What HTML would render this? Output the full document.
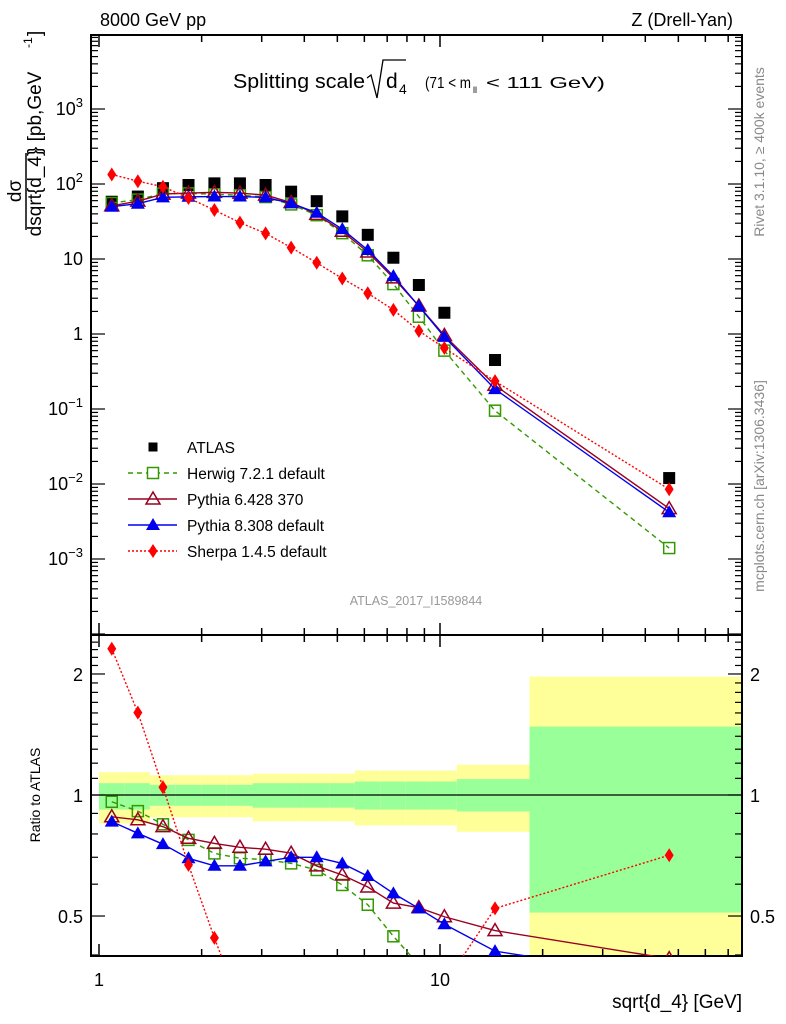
<!DOCTYPE html>
<html><head><meta charset="utf-8"><style>
html,body{margin:0;background:#fff;overflow:hidden;width:786px;height:1024px;}
svg{display:block;font-family:"Liberation Sans",Arial,sans-serif;}
</style></head><body>
<svg id="c" width="786" height="1024" viewBox="0 0 786 1024"></svg>
<script>
// ---- data ----
const xCenters = [1.09,1.30,1.54,1.83,2.18,2.59,3.08,3.66,4.35,5.17,6.14,7.30,8.67,10.3,14.5,47];
const binEdges = [1.0,1.19,1.41,1.68,2.0,2.37,2.82,3.35,3.98,4.73,5.62,6.68,7.94,9.44,11.2,18.3,76.9];
const atlas = [58,68,88,97,102,102,97,79,59,37,21,10.4,4.5,1.92,0.45,0.012];
const herwig = [55.8,62,74.4,75,73,71,67,53.4,38.4,22.1,11.2,4.63,1.7,0.6,0.095,0.0014];
const pythia6 = [51.2,59,73.4,75.7,77.3,75.6,71.1,56.6,39.3,23.4,12.4,5.6,2.36,0.956,0.207,0.0047];
const pythia8 = [49.8,54.6,66.4,67.5,68,68,66.3,55.3,41.3,25,13.2,5.92,2.35,0.916,0.184,0.0042];
const sherpa = [134,109,92,65,45,30.5,22,14.2,8.9,5.5,3.5,2.1,1.1,0.65,0.235,0.0085];
const yellowUp = [1.14,1.14,1.12,1.12,1.12,1.12,1.13,1.13,1.13,1.13,1.15,1.15,1.15,1.15,1.19,1.97];
const yellowDn = [0.85,0.85,0.88,0.88,0.88,0.88,0.86,0.86,0.86,0.86,0.84,0.84,0.84,0.84,0.81,0.30];
const greenUp = [1.07,1.07,1.06,1.06,1.06,1.06,1.07,1.07,1.07,1.07,1.08,1.08,1.08,1.08,1.095,1.48];
const greenDn = [0.92,0.92,0.94,0.94,0.94,0.94,0.93,0.93,0.93,0.93,0.92,0.92,0.92,0.92,0.91,0.51];
const mainTicks = ["10^{-3}","10^{-2}","10^{-1}","1","10","10^2","10^3"];
const ratioTicks = ["0.5","1","2"];

// ---- axes ----
const L=91,R=742,T=35,MB=635,RB=956;
const X=v=>99+Math.log10(v)*341;
const Y=v=>184-(Math.log10(v)-2)*75;
const YR=v=>795-Math.log10(v)*402;
const NS="http://www.w3.org/2000/svg";
const svg=document.getElementById('c');
function el(tag,attrs,parent){const e=document.createElementNS(NS,tag);for(const k in attrs)e.setAttribute(k,attrs[k]);(parent||svg).appendChild(e);return e;}
function txt(s,attrs,parent){const e=el('text',attrs,parent);e.textContent=s;return e;}

const defs=el('defs',{});
const cm=el('clipPath',{id:'cm'},defs);el('rect',{x:L,y:T,width:R-L,height:MB-T},cm);
const cr=el('clipPath',{id:'cr'},defs);el('rect',{x:L,y:MB,width:R-L,height:RB-MB},cr);

const gBand=el('g',{'clip-path':'url(#cr)'});


for(let i=0;i<xCenters.length;i++){
  const x0=Math.max(X(binEdges[i]),L),x1=X(binEdges[i+1]);
  const y=el('rect',{x:x0,y:YR(yellowUp[i]),width:x1-x0,height:YR(yellowDn[i])-YR(yellowUp[i]),fill:'#ffff99'},gBand);
  
  
  const g=el('rect',{x:x0,y:YR(greenUp[i]),width:x1-x0,height:YR(greenDn[i])-YR(greenUp[i]),fill:'#99ff99'},gBand);
  
  
}
el('line',{x1:L,x2:R,y1:YR(1),y2:YR(1),stroke:'#000','stroke-width':1.2});

const fm=el('rect',{x:L,y:T,width:R-L,height:MB-T,fill:'none',stroke:'#000','stroke-width':2});


const fr=el('rect',{x:L,y:MB,width:R-L,height:RB-MB,fill:'none',stroke:'#000','stroke-width':2});



function xticks(top,bot){
  for(let d=0;d<2;d++)for(let m=1;m<10;m++){
    const v=m*Math.pow(10,d);const x=X(v);if(x<L||x>R)continue;
    const len=m===1?12:7;
    el('line',{x1:x,x2:x,y1:top,y2:top+len,stroke:'#000','stroke-width':1.5});
    el('line',{x1:x,x2:x,y1:bot,y2:bot-len,stroke:'#000','stroke-width':1.5});
  }
}
xticks(T,MB);xticks(MB,RB);
for(let d=-4;d<4;d++)for(let m=1;m<10;m++){
  const v=m*Math.pow(10,d);const y=Y(v);if(y<T||y>MB)continue;
  const len=m===1?14:7;
  el('line',{x1:L,x2:L+len,y1:y,y2:y,stroke:'#000','stroke-width':1.2});
  el('line',{x1:R,x2:R-len,y1:y,y2:y,stroke:'#000','stroke-width':1.2});
}
[0.4,0.5,0.6,0.7,0.8,0.9,1,1.1,1.2,1.3,1.4,1.5,1.6,1.7,1.8,1.9,2,2.1,2.2,2.3,2.4,2.5].forEach(v=>{
  const y=YR(v);if(y<MB||y>RB)return;
  const len=(v===0.5||v===1||v===2)?14:7;
  el('line',{x1:L,x2:L+len,y1:y,y2:y,stroke:'#000','stroke-width':1.2});
  el('line',{x1:R,x2:R-len,y1:y,y2:y,stroke:'#000','stroke-width':1.2});
});
const mainVals=[1e-3,1e-2,1e-1,1,10,100,1000];
mainTicks.forEach((s,i)=>{
  const y=Y(mainVals[i])+6;
  const t=el('text',{x:83,y:y,'text-anchor':'end','font-size':18});
  
  
  const m=s.match(/^10\^\{?(-?\d+)\}?$/);
  if(m){const a=el('tspan',{},t);a.textContent='10';const b=el('tspan',{dy:-8,'font-size':13},t);b.textContent=m[1].replace('-','\u2212');}
  else t.textContent=s;
});
const ratioVals=[0.5,1,2];
ratioTicks.forEach((s,i)=>{
  const y=YR(ratioVals[i])+7;
  const a=txt(s,{x:83,y:y,'text-anchor':'end','font-size':18});
  
  
  const b=txt(s,{x:750,y:y,'text-anchor':'start','font-size':18});
  
  
});
[[1,'1'],[10,'10']].forEach(p=>{
  const t=txt(p[1],{x:X(p[0]),y:986,'text-anchor':'middle','font-size':18});
  
  
});

const series=[
 {name:'herwig',vals:herwig,color:'#339900',dash:'5,4',marker:'sqo'},
 {name:'pythia6',vals:pythia6,color:'#990022',dash:'',marker:'trio'},
 {name:'pythia8',vals:pythia8,color:'#0000ee',dash:'',marker:'trif'},
 {name:'sherpa',vals:sherpa,color:'#ff0000',dash:'2,2',marker:'dia'}
];
function marker(kind,x,y,color,parent){
  if(kind==='sqo')return el('rect',{x:x-5.5,y:y-5.5,width:11,height:11,fill:'none',stroke:color,'stroke-width':1.5},parent);
  if(kind==='trio')return el('polygon',{points:`${x},${y-7} ${x-7},${y+5} ${x+7},${y+5}`,fill:'none',stroke:color,'stroke-width':1.5},parent);
  if(kind==='trif')return el('polygon',{points:`${x},${y-7} ${x-7},${y+5} ${x+7},${y+5}`,fill:color},parent);
  if(kind==='dia')return el('polygon',{points:`${x},${y-7} ${x-4.5},${y} ${x},${y+7} ${x+4.5},${y}`,fill:color},parent);
  if(kind==='sq')return el('rect',{x:x-6,y:y-6,width:12,height:12,fill:color},parent);
}
const ga=el('g',{'clip-path':'url(#cm)'});


atlas.forEach((v,i)=>{const m=marker('sq',X(xCenters[i]),Y(v),'#000',ga);
  
  });
series.forEach(s=>{
  const gm=el('g',{'clip-path':'url(#cm)'});
  
  
  const pts=s.vals.map((v,i)=>X(xCenters[i])+','+Y(v)).join(' ');
  el('polyline',{points:pts,fill:'none',stroke:s.color,'stroke-width':1.4,'stroke-dasharray':s.dash},gm);
  s.vals.forEach((v,i)=>marker(s.marker,X(xCenters[i]),Y(v),s.color,gm));
  const gr=el('g',{'clip-path':'url(#cr)'});
  
  
  const rp=s.vals.map((v,i)=>X(xCenters[i])+','+YR(v/atlas[i])).join(' ');
  el('polyline',{points:rp,fill:'none',stroke:s.color,'stroke-width':1.4,'stroke-dasharray':s.dash},gr);
  s.vals.forEach((v,i)=>marker(s.marker,X(xCenters[i]),YR(v/atlas[i]),s.color,gr));
});

const legend=el('g',{});


const legItems=[['ATLAS',null],['Herwig 7.2.1 default',series[0]],['Pythia 6.428 370',series[1]],['Pythia 8.308 default',series[2]],['Sherpa 1.4.5 default',series[3]]];
legItems.forEach((it,i)=>{
  const y=447+i*26;
  const g=el('g',{},legend);
  
  
  if(!it[1]){el('rect',{x:148.5,y:y-4.5,width:9,height:9,fill:'#000'},g);}
  else{el('line',{x1:128,x2:177,y1:y,y2:y,stroke:it[1].color,'stroke-width':1.4,'stroke-dasharray':it[1].dash},g);
    if(it[1].marker==='sqo')el('rect',{x:147.5,y:y-5.5,width:11,height:11,fill:'#fff'},g);
    marker(it[1].marker,153,y,it[1].color,g);}
  txt(it[0],{x:187,y:y+6,'font-size':15.5},g);
});

const t1=txt('8000 GeV pp',{x:100,y:26,'font-size':18});

const t2=txt('Z (Drell-Yan)',{x:733,y:26,'font-size':18,'text-anchor':'end'});

const pt=el('g',{});

txt('Splitting scale',{x:233,y:88,'font-size':20,textLength:132,lengthAdjust:'spacingAndGlyphs'},pt);
el('polyline',{points:'367,78 371,75 377,98 383,60 406,60',fill:'none',stroke:'#000','stroke-width':1.3},pt);
txt('d',{x:386,y:88,'font-size':21},pt);
txt('4',{x:399,y:94,'font-size':14},pt);
txt('(71 < m',{x:425,y:88,'font-size':16,textLength:46,lengthAdjust:'spacingAndGlyphs'},pt);
txt('ll',{x:473,y:93,'font-size':9},pt);
txt('< 111 GeV)',{x:486,y:88,'font-size':16,textLength:119,lengthAdjust:'spacingAndGlyphs'},pt);
const an=txt('ATLAS_2017_I1589844',{x:416,y:605,'font-size':12.5,'text-anchor':'middle',fill:'#999'});

const rv=txt('Rivet 3.1.10, \u2265 400k events',{x:0,y:0,'font-size':14,'text-anchor':'middle',fill:'#888',transform:'translate(764,152) rotate(-90)'});

const mc=txt('mcplots.cern.ch [arXiv:1306.3436]',{x:0,y:0,'font-size':14,'text-anchor':'middle',fill:'#888',transform:'translate(764,486) rotate(-90)'});

const xl=txt('sqrt{d_4} [GeV]',{x:742,y:1008,'font-size':19,'text-anchor':'end'});

const rl=txt('Ratio to ATLAS',{x:0,y:0,'font-size':14,'text-anchor':'middle',transform:'translate(40,795) rotate(-90)'});

const yl=el('g',{});

txt('d\u03c3',{x:0,y:0,'font-size':19,'text-anchor':'middle',transform:'translate(21,191) rotate(-90)'},yl);
el('line',{x1:26,x2:26,y1:230,y2:153,stroke:'#000','stroke-width':1.5},yl);
txt('dsqrt{d_4}',{x:0,y:0,'font-size':19,'text-anchor':'middle',transform:'translate(41,193) rotate(-90)'},yl);
txt('} [pb,GeV',{x:0,y:0,'font-size':19,'text-anchor':'start',transform:'translate(41,153) rotate(-90)'},yl);
txt('-1',{x:0,y:0,'font-size':12,'text-anchor':'start',transform:'translate(32,48) rotate(-90)'},yl);
txt(']',{x:0,y:0,'font-size':19,'text-anchor':'start',transform:'translate(41,36) rotate(-90)'},yl);
</script>
</body></html>
